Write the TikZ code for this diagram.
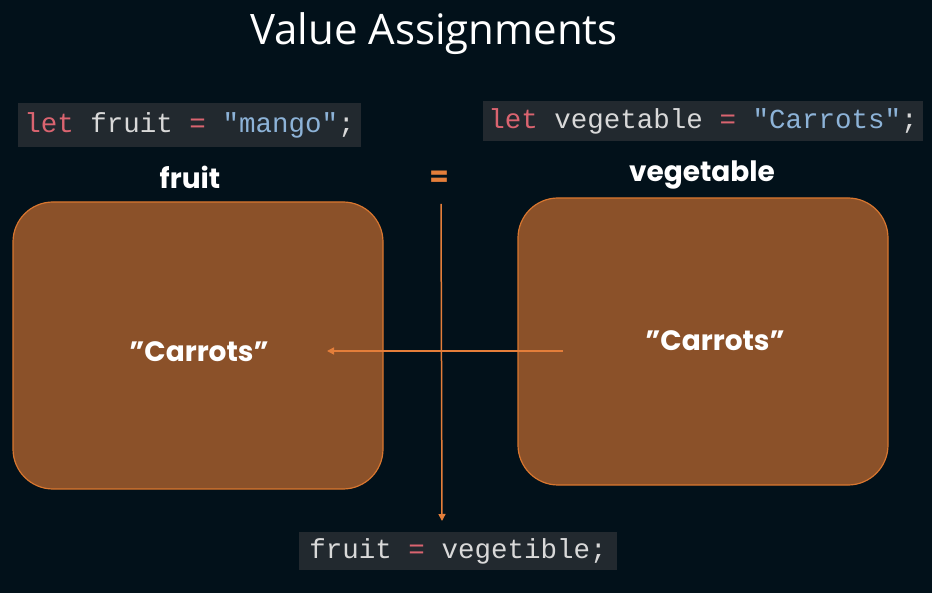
\documentclass[tikz,border=0pt]{standalone}
\usepackage{fontspec}
\usepackage{xcolor}
\setmainfont{Open Sans}
\newfontfamily\labelfont{Poppins}
\newfontfamily\codefont{Liberation Mono}
\usetikzlibrary{arrows.meta, positioning}

\definecolor{slidebg}{HTML}{02111A}
\definecolor{codebg}{HTML}{22292F}
\definecolor{boxfill}{HTML}{8B5129}
\definecolor{boxedge}{HTML}{D8762F}
\definecolor{arrowline}{HTML}{E47E3A}
\definecolor{kwred}{HTML}{DA6470}
\definecolor{strblue}{HTML}{8DB3D8}
\definecolor{codewhite}{HTML}{D9D9D9}

\tikzset{
	codebox/.style={fill=codebg, inner sep=0pt, font=\codefont\fontsize{27.5pt}{30pt}\selectfont, text=codewhite},
	varbox/.style={draw=boxedge, line width=1.2pt, fill=boxfill, rounded corners=40pt, minimum width=370pt, minimum height=287pt},
	varname/.style={text=white, font=\labelfont\bfseries\fontsize{28pt}{30pt}\selectfont},
	copyline/.style={draw=arrowline, line width=1.5pt, -{Triangle[length=7pt, width=7pt]}}
}

\begin{document}
\begin{tikzpicture}[x=1pt, y=-1pt]
		\fill [slidebg] (0,0) rectangle (932,593);
		\useasboundingbox (0,0) rectangle (932,593);
		\node [text=white, font=\fontsize{42pt}{44pt}\selectfont] (title) at (434,34) {Value Assignments};
		% code snippets
		\node [codebox, minimum width=343pt, minimum height=44pt] (fruitcode) at (189.5,125) {\textcolor{kwred}{let} fruit \textcolor{kwred}{=} \textcolor{strblue}{"mango"};};
		\node [codebox, minimum width=440pt, minimum height=40pt] (vegcode) at (703,121) {\textcolor{kwred}{let} vegetable \textcolor{kwred}{=} \textcolor{strblue}{"Carrots"};};
		\node [codebox, minimum width=318pt, minimum height=38pt] (assigncode) at (458,551) {fruit \textcolor{kwred}{=} vegetible;};
		% variable boxes
		\node [varname] (fruitname) at (190,177) {fruit};
		\node [varname] (vegname) at (702,175) {vegetable};
		\node [varbox] (fruitbox) at (198,345.5) {};
		\node [varbox] (vegbox) at (703,341.5) {};
		\node [varname] (fruitval) at (199,352) {”Carrots”};
		\node [varname] (vegval) at (715,341) {”Carrots”};
		\node [text=arrowline, font=\labelfont\bfseries\fontsize{28pt}{30pt}\selectfont] (equals) at (439,179) {=};
		% connectors
		\coordinate (hstart) at (563,351);
		\coordinate (hend) at (327,351);
		\coordinate (vstart) at (441,204);
		\coordinate (vend) at (442,521);
		\draw [copyline] (hstart) -- (hend);
		\draw [copyline] (vstart) -- (vend);
	\end{tikzpicture}
\end{document}
